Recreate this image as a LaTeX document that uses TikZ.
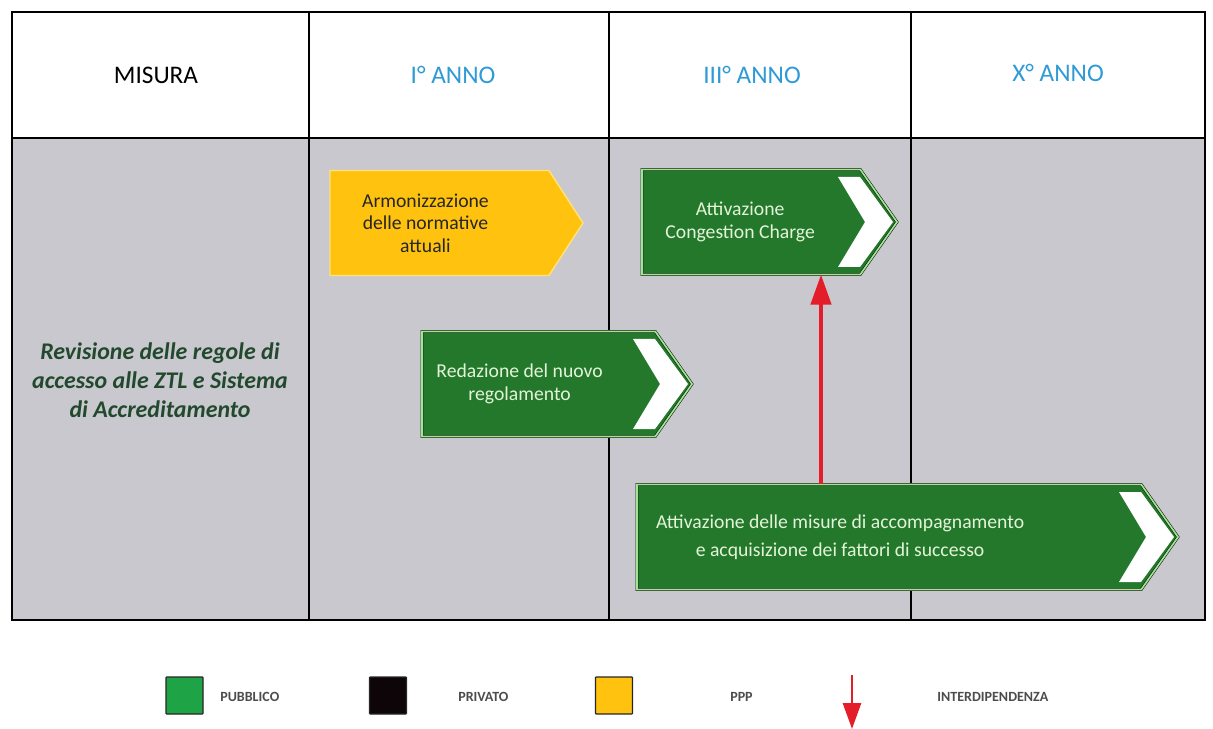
\documentclass[tikz,border=0pt]{standalone}
\usepackage{fontspec}
\setmainfont{Carlito}
\usepackage{tikz}
\usetikzlibrary{shapes.symbols, arrows.meta, positioning, calc}
\definecolor{cellgray}{HTML}{C8C8CE}
\definecolor{pubgreen}{HTML}{23782C}
\definecolor{pubrim}{HTML}{A6E296}
\definecolor{pubtext}{HTML}{E4F4D8}
\definecolor{pppyellow}{HTML}{FFC20E}
\definecolor{ppprim}{HTML}{FFE27A}
\definecolor{legreen}{HTML}{1FA347}
\definecolor{legblack}{HTML}{0D0508}
\definecolor{depred}{HTML}{E31E2A}
\definecolor{yearblue}{HTML}{2E9AD6}
\definecolor{misgreen}{HTML}{22492E}
\tikzset{
  tbline/.style   = {draw=black, line width=0.5mm},
  hdtext/.style   = {font=\fontsize{18}{22}\selectfont, inner sep=0pt},
  yrtext/.style   = {hdtext, text=yearblue},
  mstext/.style   = {font=\fontsize{17}{20.5}\selectfont\bfseries\itshape,
                     text=misgreen, align=center, inner sep=0pt},
  actbox/.style   = {signal, signal to=east, signal pointer angle=110,
                     anchor=west, minimum height=26.25mm, inner sep=0pt,
                     outer sep=0pt, align=center,
                     font=\fontsize{14}{16}\selectfont},
  pubact/.style   = {actbox, fill=pubgreen, draw=black!75!pubgreen,
                     line width=0.4pt, double=pubrim, double distance=1.2pt,
                     text=pubtext},
  pppact/.style   = {actbox, signal pointer angle=114, fill=pppyellow,
                     draw=ppprim, line width=1pt, text=black!85},
  chevtip/.style  = {fill=white},
  interdip/.style = {draw=depred, line width=3pt,
                     -{Triangle[length=7.5mm, width=5mm]}},
  legsq/.style    = {rectangle, draw=black!85, line width=0.9pt,
                     rounded corners=0.6pt, minimum size=9.25mm, inner sep=0pt},
  leglab/.style   = {anchor=west, font=\fontsize{10}{12}\selectfont\bfseries,
                     text=black!70, inner sep=0pt},
}
\begin{document}
\begin{tikzpicture}[x=0.25mm, y=-0.25mm]
  \useasboundingbox (0,0) rectangle (1213,729);
  \fill[white] (12,12) rectangle (1205,138);
  \fill[cellgray] (12,138) rectangle (1205,620);
  \draw[tbline] (12,12) rectangle (1205,620);
  \draw[tbline] (12,138) -- (1205,138);
  \foreach \cx in {309,609,911}
    \draw[tbline] (\cx,12) -- (\cx,620);

  \node[hdtext] (hmis) at (156,75) {MISURA};
  \node[yrtext] (hy1)  at (453,75) {I° ANNO};
  \node[yrtext] (hy3)  at (752,75) {III° ANNO};
  \node[yrtext] (hy10) at (1058,73) {X° ANNO};

  \node[mstext] (rev) at (160,380)
    {Revisione delle regole di\\accesso alle ZTL e Sistema\\di Accreditamento};

  \node[pppact, minimum width=63.25mm] (armon) at (330,223)
    {Armonizzazione\rule{7mm}{0pt}\\delle normative\rule{7mm}{0pt}\\attuali\rule{7mm}{0pt}};
  \node[pubact, minimum width=63.75mm] (cong) at (642,222)
    {Attivazione\rule{5.5mm}{0pt}\\Congestion Charge\rule{5.5mm}{0pt}};
  \node[pubact, minimum width=67.5mm] (redaz) at (422,384)
    {Redazione del nuovo\rule{9.5mm}{0pt}\\regolamento\rule{9.5mm}{0pt}};
  \node[pubact, minimum width=135.25mm] (accomp) at (637,537)
    {Attivazione delle misure di accompagnamento\rule{24.5mm}{0pt}\\[1.5mm]
     e acquisizione dei fattori di successo\rule{24.5mm}{0pt}};
  \foreach \n in {cong,redaz,accomp}
    \fill[chevtip] ($(\n.east)+(-4,0)$) -- ++(-33,-45) -- ++(-22,0)
      -- ++(27,45) -- ++(-27,45) -- ++(22,0) -- cycle;

  \coordinate (depx) at (821,0);
  \draw[interdip] (accomp.north -| depx) -- (cong.south -| depx);

  \node[legsq, fill=legreen] (sqpub) at (184.5,695.5) {};
  \node[legsq, fill=legblack] (sqpriv) at (388,695.5) {};
  \node[legsq, fill=pppyellow] (sqppp) at (614,695.5) {};
  \node[leglab] (lbpub) at (220,697) {PUBBLICO};
  \node[leglab] (lbpriv) at (458,697) {PRIVATO};
  \node[leglab] (lbppp) at (730,697) {PPP};
  \coordinate (legtop) at (852,675);
  \coordinate (legbot) at (852,729);
  \draw[interdip, line width=2pt, -{Triangle[length=6.5mm, width=4.5mm]}]
    (legtop) -- (legbot);
  \node[leglab] (lbdep) at (937,697) {INTERDIPENDENZA};
\end{tikzpicture}
\end{document}
